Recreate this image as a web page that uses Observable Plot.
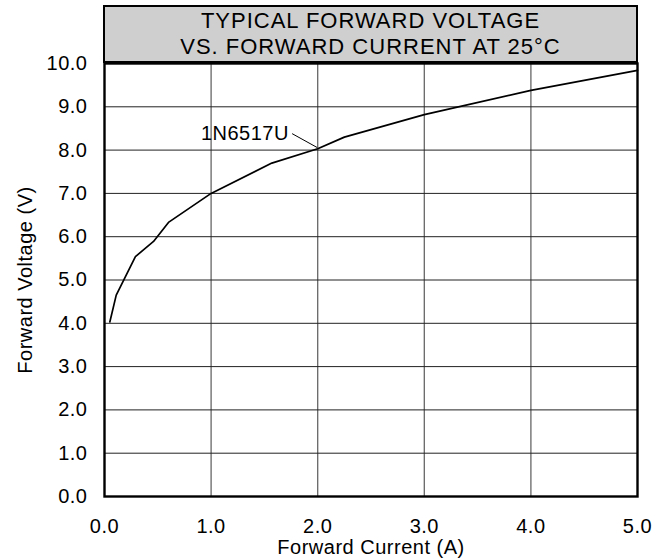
<!DOCTYPE html>
<html>
<head>
<meta charset="utf-8">
<script src="https://cdn.jsdelivr.net/npm/d3@7"></script>
<script src="https://cdn.jsdelivr.net/npm/@observablehq/plot@0.6"></script>
<style>
  html, body { margin: 0; padding: 0; background: #fff; }
  #wrap { position: relative; width: 669px; height: 560px; font-family: "Liberation Sans", Arial, sans-serif; }
  #title {
    position: absolute; left: 103px; top: 5px; width: 531px; height: 54px;
    background: #cfcfcf; border: 2px solid #000;
    display: flex; flex-direction: column; justify-content: center; align-items: center;
    font-size: 22px; line-height: 26px; letter-spacing: 1px; color: #000; text-align: center;
  }
  #chart svg text { letter-spacing: 0.5px; }
  #chart svg g[aria-label="axis-title"] text { letter-spacing: 1px; }
</style>
</head>
<body>
<div id="wrap">
  <div id="chart"></div>
  <div id="title"><div>TYPICAL FORWARD VOLTAGE</div><div>VS. FORWARD CURRENT AT 25°C</div></div>
</div>
<script>
const current = [0.05, 0.11, 0.29, 0.46, 0.60, 1.00, 1.57, 2.00, 2.25, 3.00, 4.00, 5.00];
const voltage = [4.03, 4.65, 5.54, 5.89, 6.33, 7.00, 7.70, 8.03, 8.30, 8.82, 9.38, 9.84];
const xTicks = [0, 1, 2, 3, 4, 5];
const yTicks = [0, 1, 2, 3, 4, 5, 6, 7, 8, 9, 10];
const seriesName = "1N6517U";
const labelPos = {x: 1.73, y: 8.39};
const leader = {x1: 1.76, y1: 8.38, x2: 1.995, y2: 8.06};
const xTitle = "Forward Current (A)";
const yTitle = "Forward Voltage (V)";

const data = current.map((c, i) => ({current: c, voltage: voltage[i]}));
const fmt = d3.format(".1f");

const chart = Plot.plot({
  width: 669,
  height: 560,
  marginLeft: 104,
  marginRight: 32,
  marginTop: 63,
  marginBottom: 64,
  style: {fontFamily: "'Liberation Sans', Arial, sans-serif", fontSize: "20px", color: "#000", background: "#fff"},
  x: {domain: [0, 5]},
  y: {domain: [0, 10]},
  marks: [
    Plot.ruleX(xTicks.slice(1, -1), {stroke: "#666", strokeWidth: 1.3}),
    Plot.ruleY(yTicks.slice(1, -1), {stroke: "#222", strokeWidth: 1}),
    Plot.line(data, {x: "current", y: "voltage", stroke: "#000", strokeWidth: 1.7}),
    Plot.link([leader], {x1: "x1", y1: "y1", x2: "x2", y2: "y2", stroke: "#000", strokeWidth: 1}),
    Plot.text([labelPos], {x: "x", y: "y", text: () => seriesName, textAnchor: "end", fontSize: 20, fill: "#000"}),
    Plot.frame({stroke: "#000", strokeWidth: 2.4}),
    Plot.axisX(xTicks, {tickSize: 0, tickPadding: 22, tickFormat: fmt, fontSize: 20, label: null}),
    Plot.axisY(yTicks, {tickSize: 0, tickPadding: 17, tickFormat: fmt, fontSize: 20, label: null}),
    Plot.text([xTitle], {frameAnchor: "bottom", dy: 57, text: d => d, fontSize: 20, fill: "#000", ariaLabel: "axis-title"}),
    Plot.text([yTitle], {frameAnchor: "left", dx: -79, rotate: -90, textAnchor: "middle", lineAnchor: "middle", text: d => d, fontSize: 20, fill: "#000", ariaLabel: "axis-title"})
  ]
});
document.getElementById("chart").appendChild(chart);
</script>
</body>
</html>
